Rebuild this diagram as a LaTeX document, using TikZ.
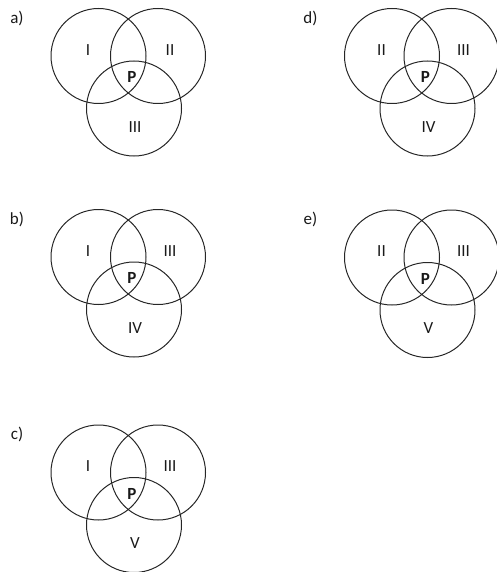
\documentclass[tikz,border=0pt]{standalone}
\usepackage{fontspec}
\setmainfont{Carlito}
\usetikzlibrary{positioning}

\begin{document}
\begin{tikzpicture}[x=1pt,y=-1pt,
  ring/.style={circle,draw=black!85,line width=1pt,minimum size=95pt,inner sep=0pt},
  lbl/.style={font=\fontsize{17}{17}\selectfont,text=black!90,inner sep=0pt}]

  \useasboundingbox (0,0) rectangle (497,572);

  % Pannelli: nome / spostamento / etichette dei cerchi
  \foreach \t/\dx/\dy/\la/\lb/\lc in {a/0/0/I/II/III, b/0/201/I/III/IV,
      c/0/416.5/I/III/V, d/293.5/0/II/III/IV, e/293.5/201.5/II/III/V}{
    \begin{scope}[shift={(\dx,\dy)}]
      % Cerchi
      \node[ring] (\t L) at (98.5,56) {};
      \node[ring] (\t R) at (158,56) {};
      \node[ring] (\t B) at (134,108.5) {};

      % Etichette
      \node[lbl] (\t tag) at (17,18) {\t)};
      \node[lbl] (\t la) at (88,50) {\la};
      \node[lbl] (\t lb) at (170,50) {\lb};
      \node[lbl] (\t lc) at (135,127) {\lc};
      \node[lbl] (\t P) at (132,77) {\textbf{P}};
    \end{scope}
  }

\end{tikzpicture}
\end{document}
